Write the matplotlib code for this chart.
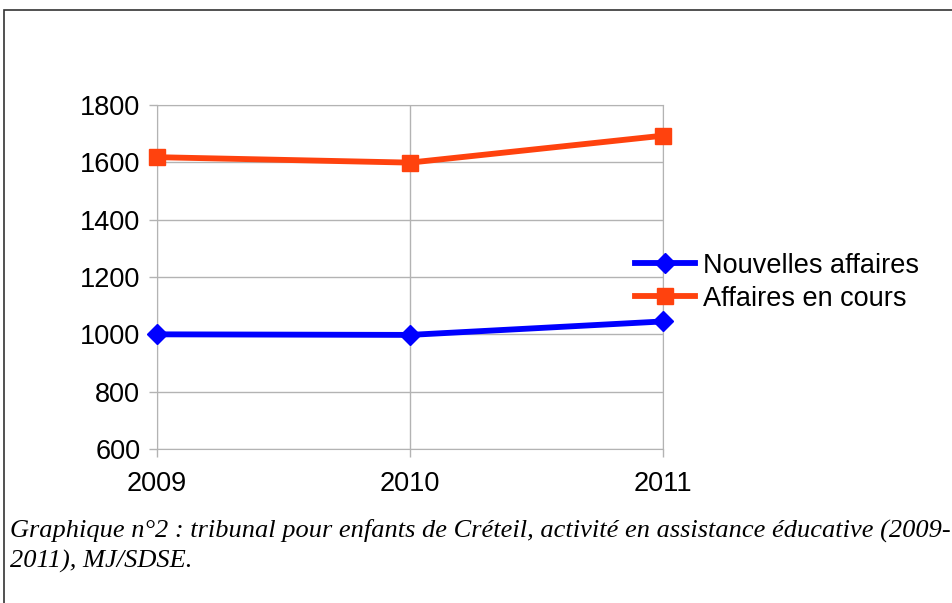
import matplotlib
matplotlib.use("Agg")
import matplotlib.pyplot as plt
from matplotlib.patches import Rectangle

years = [2009, 2010, 2011]
nouvelles = [1000, 998, 1045]
en_cours = [1618, 1599, 1693]
yticks = [600, 800, 1000, 1200, 1400, 1600, 1800]
caption = "Graphique n°2 : tribunal pour enfants de Créteil, activité en assistance éducative (2009-\n2011), MJ/SDSE."

plt.rcParams['font.family'] = ['Liberation Sans', 'DejaVu Sans']

fig = plt.figure(figsize=(9.53, 6.03), dpi=100)
W, H = 953, 603
ax = fig.add_axes([157/W, 1-449/H, (663-157)/W, (449-105)/H])

ax.plot(years, nouvelles, color='#0000ff', lw=4.2, marker='D', ms=10.5, label='Nouvelles affaires', clip_on=False, zorder=3)
ax.plot(years, en_cours, color='#ff420e', lw=4.2, marker='s', ms=11.5, label='Affaires en cours', clip_on=False, zorder=3)

ax.set_xlim(2009, 2011)
ax.set_ylim(600, 1800)
ax.set_xticks(years)
ax.set_xticklabels([str(y) for y in years])
ax.set_yticks(yticks)
ax.grid(True, color='#b3b3b3', lw=1)
ax.set_axisbelow(True)
for s in ax.spines.values():
    s.set_color('#b3b3b3')
ax.tick_params(axis='both', colors='#b3b3b3', labelcolor='black', labelsize=19.5, length=6, width=1)
ax.tick_params(axis='x', pad=10)
ax.tick_params(axis='y', pad=6)

leg = ax.legend(loc='center left', bbox_to_anchor=(0.945, 0.485), frameon=False, fontsize=19.5,
                handlelength=2.2, handletextpad=0.3, labelspacing=0.25, borderaxespad=0, borderpad=0)

# cadre autour de la figure
fig.patches.append(Rectangle((4/W, -0.1), 2, 1-10/H+0.1, transform=fig.transFigure,
                             fill=False, edgecolor='#333333', lw=1.2))

fig.text(10/W, 1-519/H, caption, fontsize=19, style='italic', family=['Liberation Serif', 'DejaVu Serif'],
         va='top', ha='left', linespacing=1.42)

fig.savefig('out.png', dpi=100)
